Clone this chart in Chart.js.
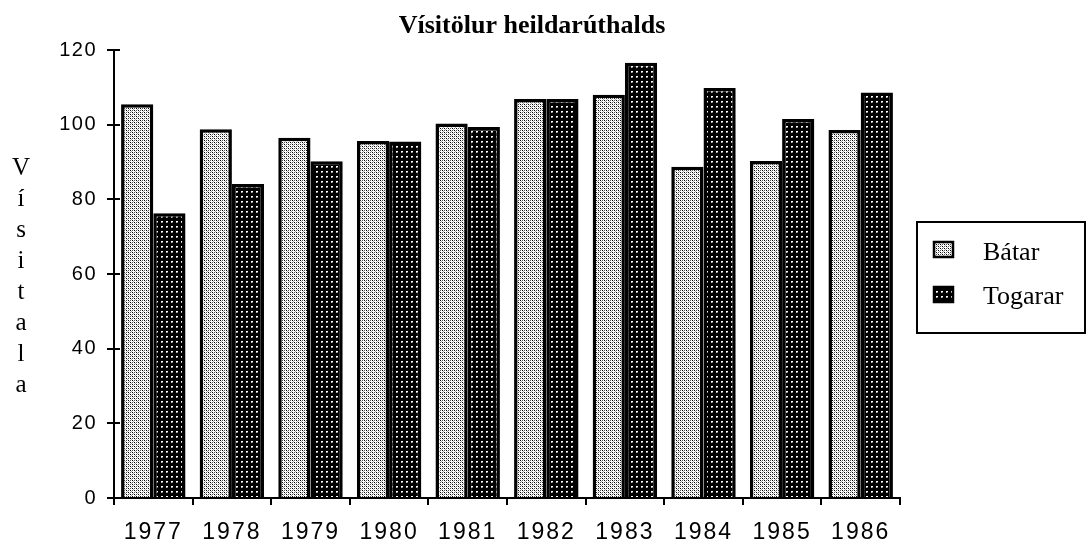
<!DOCTYPE html>
<html><head><meta charset="utf-8">
<script src="https://cdn.jsdelivr.net/npm/chart.js@4/dist/chart.umd.min.js"></script>
<style>html,body{margin:0;padding:0;background:#fff}#wrap{width:1088px;height:548px;position:relative}</style>
</head><body><div id="wrap"><canvas id="c" width="1088" height="548"></canvas></div>
<script>
const categories = ['1977','1978','1979','1980','1981','1982','1983','1984','1985','1986'];
const batar   = [105.5, 98.8, 96.5, 95.6, 100.3, 106.9, 108.0, 88.7, 90.3, 98.6];
const togarar = [76.3, 84.1, 90.2, 95.5, 99.4, 106.9, 116.6, 109.8, 101.5, 108.6];
const seriesNames = ['Bátar', 'Togarar'];
const yTicks = [0, 20, 40, 60, 80, 100, 120];
const chartTitle = 'Vísitölur heildarúthalds';
const yTitle = 'Vísitala';

function makePattern(kind) {
  const t = document.createElement('canvas');
  const g = t.getContext('2d');
  if (kind === 'light') {
    t.width = 4; t.height = 4;
    g.fillStyle = '#fff'; g.fillRect(0, 0, 4, 4);
    g.fillStyle = '#000'; g.fillRect(0, 0, 1, 1); g.fillRect(2, 2, 1, 1);
    g.fillStyle = '#555'; g.fillRect(2, 0, 1, 1); g.fillRect(0, 2, 1, 1);
    g.fillStyle = '#aaa'; g.fillRect(1, 1, 1, 1); g.fillRect(3, 3, 1, 1);
  } else {
    t.width = 5; t.height = 5;
    g.fillStyle = '#000'; g.fillRect(0, 0, 5, 5);
    g.fillStyle = '#fff'; g.fillRect(1, 1, 2, 1);
    g.fillStyle = '#bbb'; g.fillRect(1, 2, 1, 1);
    g.fillStyle = '#777'; g.fillRect(2, 2, 1, 1);
  }
  return document.getElementById('c').getContext('2d').createPattern(t, 'repeat');
}
const patLight = makePattern('light');
const patDark = makePattern('dark');
const patterns = [patLight, patDark];

const spacingPlugin = {
  id: 'tickSpacing',
  afterLayout(chart) {
    [['x', '2px'], ['y', '1.5px']].forEach(([id, sp]) => {
      const s = chart.scales[id];
      if (s && !s._spPatched) {
        const orig = s.drawLabels.bind(s);
        s.drawLabels = function (a) {
          const ctx = this.ctx;
          const prev = ctx.letterSpacing;
          ctx.letterSpacing = sp;
          orig(a);
          ctx.letterSpacing = prev || '0px';
        };
        s._spPatched = true;
      }
    });
  }
};

const yTickCross = {
  id: 'yTickCross',
  afterDraw(chart) {
    const s = chart.scales.y;
    const ctx = chart.ctx;
    ctx.save();
    ctx.strokeStyle = '#000';
    ctx.lineWidth = 2;
    s.ticks.forEach(t => {
      const py = Math.round(s.getPixelForValue(t.value));
      ctx.beginPath();
      ctx.moveTo(s.right, py);
      ctx.lineTo(s.right + 6, py);
      ctx.stroke();
    });
    ctx.restore();
  }
};

const yTitlePlugin = {
  id: 'yTitleStack',
  afterDraw(chart) {
    const ctx = chart.ctx;
    ctx.save();
    ctx.fillStyle = '#000';
    ctx.font = '25px "Liberation Serif", serif';
    ctx.textAlign = 'center';
    ctx.textBaseline = 'alphabetic';
    const letters = Array.from(yTitle);
    const x = 21, y0 = 175, step = 31;
    letters.forEach((ch, i) => ctx.fillText(ch, x, y0 + i * step));
    ctx.restore();
  }
};

const legendPlugin = {
  id: 'boxLegend',
  afterDraw(chart) {
    const ctx = chart.ctx;
    ctx.save();
    ctx.strokeStyle = '#000';
    ctx.lineWidth = 2;
    ctx.strokeRect(917, 222, 168, 111);
    ctx.font = '26px "Liberation Serif", serif';
    ctx.textBaseline = 'alphabetic';
    ctx.textAlign = 'left';
    seriesNames.forEach((name, i) => {
      const by = 242 + i * 45;
      ctx.fillStyle = patterns[i];
      ctx.fillRect(934, by, 19, 15);
      ctx.lineWidth = 2.5;
      ctx.strokeRect(934, by, 19, 15);
      ctx.fillStyle = '#000';
      ctx.fillText(name, 983, 260 + i * 44);
    });
    ctx.restore();
  }
};

new Chart(document.getElementById('c'), {
  type: 'bar',
  data: {
    labels: categories,
    datasets: [
      { label: seriesNames[0], data: batar, backgroundColor: patLight, borderColor: '#000', borderWidth: 3.5, borderSkipped: 'start' },
      { label: seriesNames[1], data: togarar, backgroundColor: patDark, borderColor: '#000', borderWidth: 3.5, borderSkipped: 'start' }
    ]
  },
  options: {
    responsive: false,
    animation: false,
    layout: { padding: { left: 0, right: 24, top: 0, bottom: 0 } },
    datasets: { bar: { categoryPercentage: 0.82, barPercentage: 1.0 } },
    plugins: {
      legend: { display: false },
      tooltip: { enabled: false },
      title: {
        display: true,
        text: chartTitle,
        color: '#000',
        font: { family: '"Liberation Serif", serif', size: 26, weight: 'bold', lineHeight: 1.154 },
        padding: { top: 11, bottom: 9 }
      }
    },
    scales: {
      x: {
        grid: { display: true, drawOnChartArea: false, drawTicks: true, tickLength: 7, color: '#000', lineWidth: 2, offset: true },
        border: { display: true, color: '#000', width: 2 },
        ticks: { color: '#000', font: { family: '"Liberation Sans", Arial, sans-serif', size: 23 }, padding: 14, maxRotation: 0 },
        afterFit(s) { s.height = 50; }
      },
      y: {
        min: 0, max: 120,
        afterBuildTicks(s) { s.ticks = yTicks.map(v => ({ value: v })); },
        grid: { display: true, drawOnChartArea: false, drawTicks: true, tickLength: 7, color: '#000', lineWidth: 2 },
        border: { display: true, color: '#000', width: 2 },
        ticks: { color: '#000', font: { family: '"Liberation Sans", Arial, sans-serif', size: 20 }, padding: 10 },
        afterFit(s) { s.width = 114; }
      },
      yR: {
        type: 'linear', position: 'right', display: true,
        grid: { display: false }, border: { display: false }, ticks: { display: false },
        afterFit(s) { s.width = 164; }
      }
    }
  },
  plugins: [spacingPlugin, yTickCross, yTitlePlugin, legendPlugin]
});
</script>
</body></html>
